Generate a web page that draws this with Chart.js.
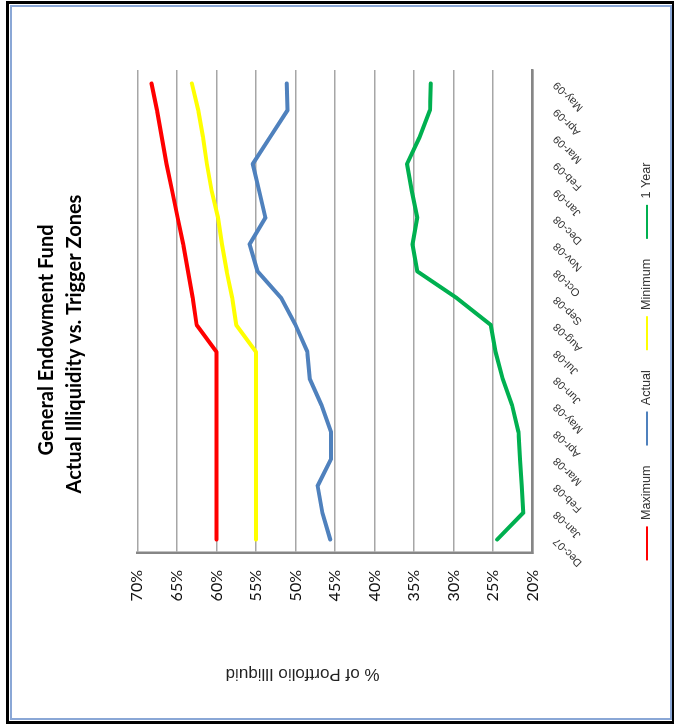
<!DOCTYPE html>
<html>
<head>
<meta charset="utf-8">
<script src="https://cdn.jsdelivr.net/npm/chart.js@4.4.1/dist/chart.umd.min.js"></script>
<style>
  html, body { margin: 0; padding: 0; background: #fff; width: 674px; height: 728px; overflow: hidden; }
  .frame-outer { position: absolute; left: 6px; top: 1px; width: 669px; height: 723px; box-sizing: border-box; border: 3px solid #000; }
  .frame-inner { position: absolute; left: 10px; top: 5px; width: 662px; height: 715px; box-sizing: border-box; border: 2px solid #8aa7d6; }
  /* the chart is laid out upright, then turned a quarter turn counter-clockwise */
  .turned { position: absolute; left: 12px; top: 716px; width: 708px; height: 656px; transform-origin: 0 0; transform: rotate(-90deg); }
</style>
</head>
<body>
<div class="frame-outer"></div>
<div class="frame-inner"></div>
<div class="turned"><canvas id="c" width="708" height="656"></canvas></div>
<script>
const categories = ['Dec-07','Jan-08','Feb-08','Mar-08','Apr-08','May-08','Jun-08','Jul-08','Aug-08',
  'Sep-08','Oct-08','Nov-08','Dec-08','Jan-09','Feb-09','Mar-09','Apr-09','May-09'];
const maximumZone = [60,60,60,60,60,60,60,60,62.5,63.0,63.6,64.2,64.9,65.6,66.3,66.9,67.5,68.2];
const actualIlliquid = [45.6,46.6,47.2,45.5,45.5,46.7,48.2,48.5,50.0,51.8,54.8,55.8,53.8,54.6,55.4,53.2,51.0,51.1];
const minimumZone = [55,55,55,55,55,55,55,55,57.5,58.0,58.7,59.3,59.8,60.6,61.2,61.7,62.3,63.1];
const oneYear = [24.5,21.2,21.4,21.6,21.8,22.6,23.8,24.7,25.3,29.6,34.6,35.2,34.6,35.3,35.9,34.3,33.0,32.9];
const titleLines = ['General Endowment Fund', 'Actual Illiquidity vs. Trigger Zones'];
const valueAxisTitle = '% of Portfolio Illiquid';

const PAD = {left: 63, right: 62, top: 125.3, bottom: 4.7};
const PLOT_BOTTOM = 520.7;

const titleBlock = {
  id: 'titleBlock',
  afterDraw(chart) {
    const ctx = chart.ctx;
    ctx.save();
    ctx.fillStyle = '#000';
    ctx.textAlign = 'center';
    ctx.textBaseline = 'alphabetic';
    ctx.font = 'bold 20px Lato';
    ctx.fillText(titleLines[0], 376, 41.3);
    ctx.fillText(titleLines[1], 372, 69);
    // value axis caption, turned to read upward
    ctx.translate(42, 290.5);
    ctx.rotate(-Math.PI / 2);
    ctx.font = '17px "Liberation Sans"';
    ctx.textBaseline = 'middle';
    ctx.fillStyle = '#222';
    ctx.fillText(valueAxisTitle, 0, 0);
    ctx.restore();
  }
};

function series(label, data, color) {
  return {
    label, data, borderColor: color, backgroundColor: color,
    borderWidth: 4, pointRadius: 0, tension: 0, fill: false,
    borderCapStyle: 'round', borderJoinStyle: 'round'
  };
}

new Chart(document.getElementById('c'), {
  type: 'line',
  data: {
    labels: categories,
    datasets: [
      series('Maximum', maximumZone, '#ff0000'),
      series('Actual', actualIlliquid, '#4f81bd'),
      series('Minimum', minimumZone, '#ffff00'),
      series('1 Year', oneYear, '#00b050')
    ]
  },
  options: {
    responsive: false,
    animation: false,
    layout: { padding: PAD },
    plugins: {
      title: { display: false },
      tooltip: { enabled: false },
      legend: {
        position: 'bottom',
        labels: {
          boxWidth: 34,
          boxHeight: 2,
          padding: 20,
          color: '#333',
          font: { family: 'Liberation Sans', size: 12.6 },
          generateLabels(chart) {
            return chart.data.datasets.map((ds, i) => ({
              text: ds.label, fillStyle: ds.borderColor, strokeStyle: ds.borderColor,
              lineWidth: 0, hidden: false, datasetIndex: i, fontColor: '#333'
            }));
          }
        }
      }
    },
    scales: {
      x: {
        type: 'category',
        offset: true,
        grid: { display: false, drawTicks: false },
        border: { display: true, color: '#868686', width: 2.5 },
        ticks: {
          minRotation: 45, maxRotation: 45, autoSkip: false, padding: 18,
          color: '#333', font: { family: 'Liberation Sans', size: 11 }
        },
        afterFit(scale) {
          const lg = scale.chart.legend;
          const lh = lg ? lg.height : 42.6;
          scale.height = scale.chart.height - PAD.bottom - lh - PLOT_BOTTOM;
        }
      },
      y: {
        min: 20, max: 70,
        grid: { color: '#a6a6a6', lineWidth: 1.6, drawTicks: false },
        border: { display: true, color: '#868686', width: 2.5 },
        ticks: {
          stepSize: 5, padding: 17, color: '#111',
          font: { family: 'Lato', size: 16 },
          callback: v => v + '%'
        },
        afterFit(scale) { scale.width = 163 - PAD.left; }
      }
    }
  },
  plugins: [titleBlock]
});
</script>
</body>
</html>
